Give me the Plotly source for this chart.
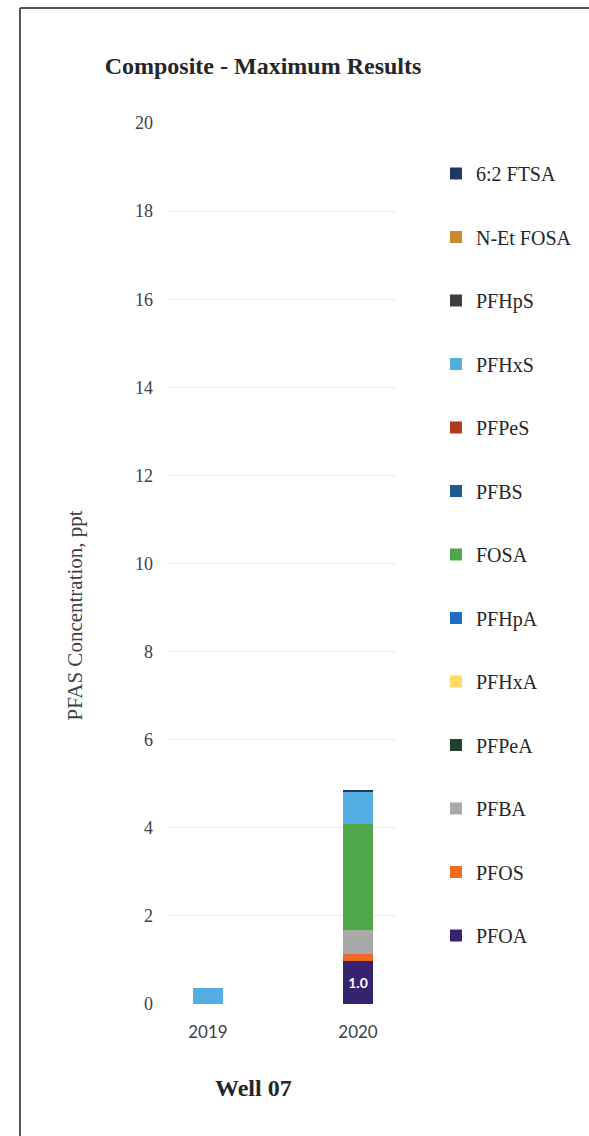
import plotly.graph_objects as go

years = ["2019", "2020"]
series_names = ["PFOA", "PFOS", "PFBA", "PFPeA", "PFHxA", "PFHpA", "FOSA",
                "PFBS", "PFPeS", "PFHxS", "PFHpS", "N-Et FOSA", "6:2 FTSA"]
series_colors = ["#36236f", "#f26a22", "#a9a9a9", "#22402e", "#ffd966", "#1f6fc0",
                 "#4ea84a", "#1d5a96", "#b23a1c", "#55aee2", "#3d3d3d", "#c98a2e",
                 "#1f3864"]
values = {
    "PFOA":      [0.0, 0.97],
    "PFOS":      [0.0, 0.16],
    "PFBA":      [0.0, 0.54],
    "PFPeA":     [0.0, 0.0],
    "PFHxA":     [0.0, 0.0],
    "PFHpA":     [0.0, 0.0],
    "FOSA":      [0.0, 2.42],
    "PFBS":      [0.0, 0.0],
    "PFPeS":     [0.0, 0.0],
    "PFHxS":     [0.36, 0.74],
    "PFHpS":     [0.0, 0.0],
    "N-Et FOSA": [0.0, 0.0],
    "6:2 FTSA":  [0.0, 0.03],
}
pfoa_labels = ["", "1.0"]
y_ticks = [0, 2, 4, 6, 8, 10, 12, 14, 16, 18, 20]

SERIF = "Liberation Serif, Times New Roman, serif"

fig = go.Figure()
n = len(series_names)
for i, (name, color) in enumerate(zip(series_names, series_colors)):
    kw = {}
    if name == "PFOA":
        kw = dict(text=pfoa_labels, textposition="inside", insidetextanchor="middle",
                  textfont=dict(family="Lato, sans-serif", size=14, color="white"),
                  texttemplate="<b>%{text}</b>")
    fig.add_trace(go.Bar(
        x=years, y=values[name], name=name, marker=dict(color=color, line=dict(width=0)),
        width=0.2, legendgroup=name, legendrank=n - i, hoverinfo="skip", **kw))

W, H = 589, 1136
L, R, T, B = 170, 186, 123, 132
pw, ph = W - L - R, H - T - B

def px_x(x):
    return (x - L) / pw

def px_y(y):
    return (H - B - y) / ph

fig.update_layout(
    width=W, height=H,
    margin=dict(l=L, r=R, t=T, b=B),
    paper_bgcolor="white", plot_bgcolor="white",
    barmode="stack",
    title=dict(text="<b>Composite - Maximum Results</b>",
               font=dict(family=SERIF, size=24, color="#262626"),
               x=263 / W, xref="container", xanchor="center",
               y=(H - 66) / H, yref="container", yanchor="middle"),
    showlegend=True,
    legend=dict(traceorder="grouped", tracegroupgap=34.5,
                font=dict(family=SERIF, size=20, color="#262626"),
                x=px_x(443), xanchor="left", y=px_y(154), yanchor="top",
                bgcolor="rgba(0,0,0,0)", itemclick=False, itemdoubleclick=False),
    xaxis=dict(type="category", range=[-0.253, 1.26], showgrid=False, showline=False,
               zeroline=False, ticks="", ticklabelstandoff=16,
               tickfont=dict(family="Lato, sans-serif", size=17, color="#404040")),
    yaxis=dict(range=[0, 20], tickvals=y_ticks, showgrid=True, gridcolor="#ededed",
               gridwidth=1, zeroline=False, showline=False, ticks="",
               ticklabelstandoff=16,
               tickfont=dict(family=SERIF, size=18, color="#404040")),
    annotations=[
        dict(text="PFAS Concentration, ppt", textangle=-90, showarrow=False,
             xref="paper", yref="paper", x=px_x(72), y=px_y(616),
             xanchor="center", yanchor="middle",
             font=dict(family=SERIF, size=21, color="#404040")),
        dict(text="<b>Well 07</b>", showarrow=False,
             xref="paper", yref="paper", x=px_x(256), y=px_y(1088),
             xanchor="center", yanchor="middle",
             font=dict(family=SERIF, size=24, color="#262626")),
    ],
    shapes=[
        dict(type="line", xref="paper", yref="paper", x0=px_x(16), x1=px_x(16),
             y0=px_y(8), y1=px_y(1200), line=dict(color="#555555", width=2)),
        dict(type="line", xref="paper", yref="paper", x0=px_x(16), x1=px_x(700),
             y0=px_y(8), y1=px_y(8), line=dict(color="#555555", width=2)),
    ],
)

fig.write_html("out.html")
